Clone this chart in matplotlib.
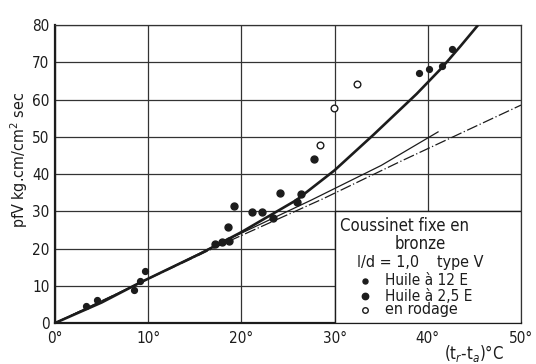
import matplotlib
matplotlib.use('Agg')
import matplotlib.pyplot as plt
from matplotlib.patches import Rectangle

oil_12E_x = [3.3, 4.5, 8.5, 9.1, 9.7, 39.1, 40.1, 41.5, 42.6]
oil_12E_y = [4.6, 6.2, 8.8, 11.3, 14.0, 67.2, 68.1, 68.9, 73.5]
oil_25E_x = [17.2, 17.9, 18.7, 18.6, 19.2, 21.1, 22.2, 23.4, 24.1, 26.0, 26.4, 27.8]
oil_25E_y = [21.1, 21.8, 22.1, 25.8, 31.4, 29.8, 29.8, 28.2, 34.9, 32.4, 34.5, 44.0]
rodage_x = [28.4, 29.9, 32.4]
rodage_y = [47.7, 57.6, 64.1]

# curves
thick_x = [0, 5, 9, 15.5, 20, 25.9, 30, 34.2, 38.8, 41.5, 43.5, 45.4]
thick_y = [0, 5.5, 10.7, 18.5, 24.4, 33.0, 41.0, 50.6, 61.5, 68.5, 74.3, 80.0]
thin_x = [0, 9, 17.7, 27.5, 35, 41.1]
thin_y = [0, 10.7, 21.4, 33.0, 42.3, 51.3]
dashdot_x = [0, 17.7, 28.8, 37, 50]
dashdot_y = [0, 20.9, 33.4, 43.3, 58.5]

x_ticks = [0, 10, 20, 30, 40, 50]
y_ticks = [0, 10, 20, 30, 40, 50, 60, 70, 80]

ink = '#1c1c1c'
plt.rcParams['font.family'] = ['DejaVu Sans']
plt.rcParams['font.stretch'] = 'condensed'

fig = plt.figure(figsize=(5.36, 3.64), dpi=100)
ax = fig.add_axes([0.1026, 0.1126, 0.8694, 0.8187])

ax.set_xlim(0, 50)
ax.set_ylim(0, 80)
ax.set_xticks(x_ticks)
ax.set_yticks(y_ticks)
ax.set_xticklabels([f'{t}\u00b0' for t in x_ticks])
ax.tick_params(length=0, labelsize=11, colors=ink)
ax.tick_params(axis='x', pad=6)
ax.tick_params(axis='y', pad=4)
ax.grid(True, color='#333333', lw=0.9)
ax.set_axisbelow(True)
for side in ['top', 'right']:
    ax.spines[side].set_linewidth(0.9)
    ax.spines[side].set_color('#333333')
for side in ['left', 'bottom']:
    ax.spines[side].set_linewidth(1.6)
    ax.spines[side].set_color(ink)

ax.plot(thick_x, thick_y, color=ink, lw=1.9, solid_capstyle='butt', zorder=3)
ax.plot(thin_x, thin_y, color=ink, lw=0.9, zorder=3)
ax.plot(dashdot_x, dashdot_y, color=ink, lw=0.9, dashes=(9, 2, 1, 2), zorder=3)

ax.plot(oil_12E_x, oil_12E_y, 'o', color=ink, ms=4.2, zorder=4)
ax.plot(oil_25E_x, oil_25E_y, 'o', color=ink, ms=5.0, zorder=4)
ax.plot(rodage_x, rodage_y, 'o', mfc='white', mec=ink, mew=1.0, ms=4.8, zorder=4)

# legend box drawn over the lower right part of the grid
ax.add_patch(Rectangle((30, 0), 20, 30, facecolor='white', edgecolor=ink,
                       lw=1.0, zorder=5))
tkw = dict(color=ink, zorder=6, va='center')
ax.text(30.6, 26.0, 'Coussinet fixe en', ha='left', fontsize=12, **tkw)
ax.text(39.2, 21.1, 'bronze', ha='center', fontsize=12, **tkw)
ax.text(32.4, 16.3, 'l/d = 1,0', ha='left', fontsize=11.5, **tkw)
ax.text(41.0, 16.3, 'type V', ha='left', fontsize=11.5, **tkw)
ax.plot([33.3], [11.3], 'o', color=ink, ms=3.6, zorder=6)
ax.plot([33.3], [7.2], 'o', color=ink, ms=4.6, zorder=6)
ax.plot([33.3], [3.5], 'o', mfc='white', mec=ink, mew=1.0, ms=4.0, zorder=6)
ax.text(35.4, 11.3, 'Huile \u00e0 12 E', ha='left', fontsize=11, **tkw)
ax.text(35.4, 7.2, 'Huile \u00e0 2,5 E', ha='left', fontsize=11, **tkw)
ax.text(35.4, 3.5, 'en rodage', ha='left', fontsize=11.5, **tkw)

fig.text(0.036, 0.56, 'pfV kg.cm/cm$^2$ sec', rotation=90, ha='center',
         va='center', fontsize=11.5, color=ink)
fig.text(0.885, 0.03, '(t$_r$-t$_a$)\u00b0C', ha='center', va='center',
         fontsize=12, color=ink)

fig.savefig('out.png', dpi=100, facecolor='white')
